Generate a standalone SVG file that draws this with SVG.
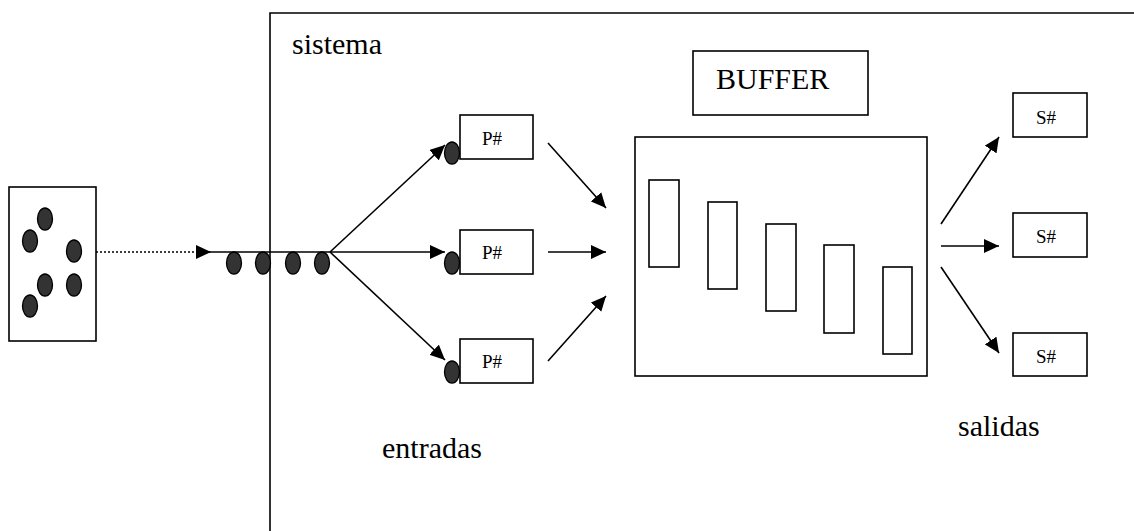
<svg xmlns="http://www.w3.org/2000/svg" width="1134" height="531" viewBox="0 0 1134 531">
<defs>
<style>
.box{fill:#fff;stroke:#000;stroke-width:1.6}
.slot{fill:none;stroke:#000;stroke-width:1.6}
.dot{fill:#333;stroke:#000;stroke-width:1.3}
.ln{fill:none;stroke:#000;stroke-width:1.6}
.dotted{fill:none;stroke:#000;stroke-width:1.6;stroke-dasharray:2 2}
.t{font-family:"Liberation Serif","Times New Roman",serif;fill:#000}
</style>
<marker id="ah" markerUnits="userSpaceOnUse" markerWidth="16" markerHeight="14" refX="15" refY="7" orient="auto">
<path d="M0,0 L15,7 L0,14 Z" fill="#000"/>
</marker>
</defs>
<rect width="1134" height="531" fill="#fff"/>

<g id="sistema">
<path class="ln" d="M270,531 V13 H1134"/>
<text class="t" font-family="Liberation Serif, serif" x="292" y="54" font-size="30">sistema</text>
</g>

<g id="source">
<rect class="box" x="9" y="187" width="87" height="154"/>
<ellipse class="dot" cx="45" cy="219" rx="7.5" ry="11"/>
<ellipse class="dot" cx="30" cy="241" rx="7.5" ry="11"/>
<ellipse class="dot" cx="74" cy="251" rx="7.5" ry="11"/>
<ellipse class="dot" cx="45" cy="285" rx="7.5" ry="11"/>
<ellipse class="dot" cx="74" cy="285" rx="7.5" ry="11"/>
<ellipse class="dot" cx="30" cy="306" rx="7.5" ry="11"/>
</g>

<g id="queue">
<ellipse class="dot" cx="234" cy="263" rx="7.5" ry="11"/>
<ellipse class="dot" cx="263" cy="263" rx="7.5" ry="11"/>
<ellipse class="dot" cx="293" cy="263" rx="7.5" ry="11"/>
<ellipse class="dot" cx="322" cy="263" rx="7.5" ry="11"/>
</g>

<g id="p1">
<rect class="box" x="460" y="115" width="73" height="44"/>
<ellipse class="dot" cx="452" cy="153" rx="7.5" ry="11"/>
<text class="t" font-family="Liberation Serif, serif" x="492" y="145" font-size="19" text-anchor="middle">P#</text>
</g>
<g id="p2">
<rect class="box" x="460" y="230" width="73" height="44"/>
<ellipse class="dot" cx="452" cy="263" rx="7.5" ry="11"/>
<text class="t" font-family="Liberation Serif, serif" x="492" y="259" font-size="19" text-anchor="middle">P#</text>
</g>
<g id="p3">
<rect class="box" x="460" y="339" width="73" height="44"/>
<ellipse class="dot" cx="452" cy="372" rx="7.5" ry="11"/>
<text class="t" font-family="Liberation Serif, serif" x="492" y="368" font-size="19" text-anchor="middle">P#</text>
</g>

<g id="buffer-label">
<rect class="box" x="693" y="51" width="175" height="64"/>
<text class="t" font-family="Liberation Serif, serif" x="716" y="89" font-size="30">BUFFER</text>
</g>

<g id="buffer">
<rect class="box" x="635" y="137" width="292" height="239"/>
<rect class="slot" x="649" y="180" width="30" height="87"/>
<rect class="slot" x="708" y="202" width="29" height="87"/>
<rect class="slot" x="766" y="224" width="30" height="87"/>
<rect class="slot" x="824" y="245" width="30" height="88"/>
<rect class="slot" x="883" y="267" width="29" height="87"/>
</g>

<g id="s1">
<rect class="box" x="1013" y="93" width="74" height="44"/>
<text class="t" font-family="Liberation Serif, serif" x="1046" y="124" font-size="19" text-anchor="middle">S#</text>
</g>
<g id="s2">
<rect class="box" x="1013" y="213" width="74" height="44"/>
<text class="t" font-family="Liberation Serif, serif" x="1046" y="243" font-size="19" text-anchor="middle">S#</text>
</g>
<g id="s3">
<rect class="box" x="1013" y="333" width="74" height="43"/>
<text class="t" font-family="Liberation Serif, serif" x="1046" y="363" font-size="19" text-anchor="middle">S#</text>
</g>

<g id="connectors">
<line class="dotted" x1="96" y1="252" x2="196" y2="252"/>
<line class="ln" x1="196" y1="252" x2="211" y2="252" marker-end="url(#ah)"/>
<line class="ln" x1="211" y1="252" x2="330" y2="252"/>
<line class="ln" x1="330" y1="252" x2="445" y2="145" marker-end="url(#ah)"/>
<line class="ln" x1="330" y1="252" x2="445" y2="252" marker-end="url(#ah)"/>
<line class="ln" x1="330" y1="252" x2="445" y2="360" marker-end="url(#ah)"/>
<line class="ln" x1="548" y1="143" x2="606" y2="208" marker-end="url(#ah)"/>
<line class="ln" x1="548" y1="252" x2="606" y2="252" marker-end="url(#ah)"/>
<line class="ln" x1="548" y1="361" x2="606" y2="296" marker-end="url(#ah)"/>
<line class="ln" x1="941" y1="224" x2="999" y2="137" marker-end="url(#ah)"/>
<line class="ln" x1="941" y1="246" x2="999" y2="246" marker-end="url(#ah)"/>
<line class="ln" x1="941" y1="267" x2="999" y2="353" marker-end="url(#ah)"/>
</g>

<text class="t" font-family="Liberation Serif, serif" x="382" y="458" font-size="30">entradas</text>
<text class="t" font-family="Liberation Serif, serif" x="958" y="436" font-size="30">salidas</text>
</svg>
